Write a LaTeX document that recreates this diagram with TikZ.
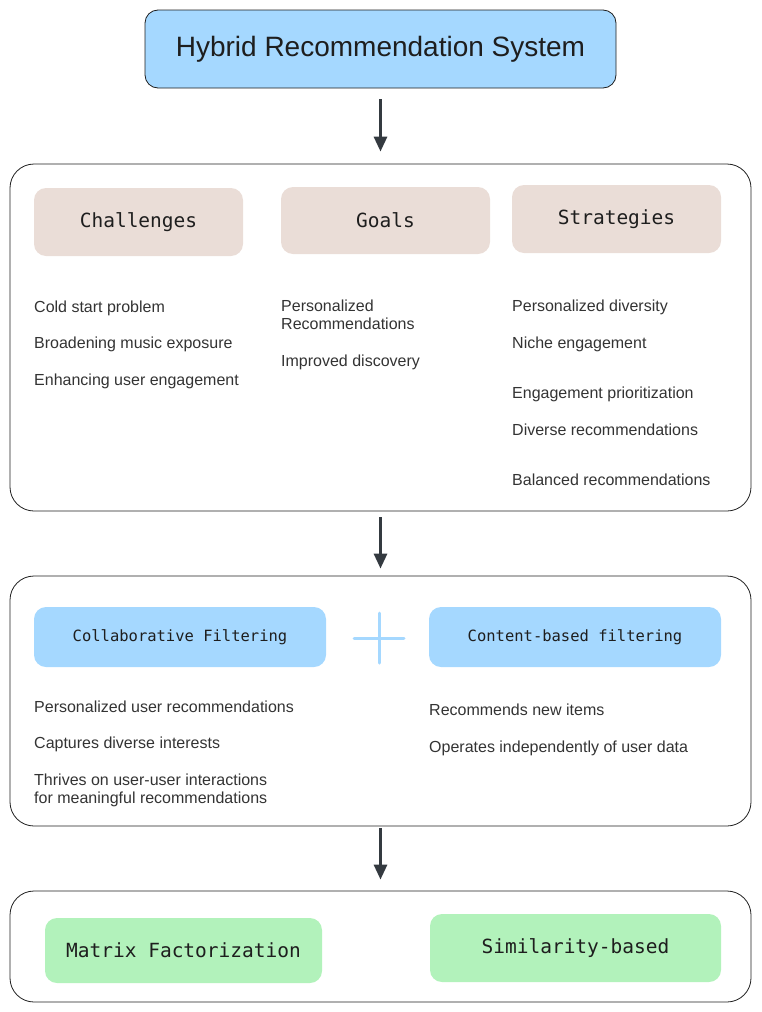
\documentclass[tikz,border=0pt]{standalone}
\usepackage{fontspec}
\setmainfont{Liberation Sans}
\newfontfamily\hdrfont{DejaVu Sans Mono}
\usetikzlibrary{arrows.meta}

\definecolor{skyblue}{HTML}{A5D8FF}
\definecolor{sand}{HTML}{EADDD7}
\definecolor{mint}{HTML}{B2F2BB}
\definecolor{ink}{HTML}{1E1E1E}
\definecolor{arrowgray}{HTML}{343A40}
\definecolor{itemgray}{HTML}{333333}

\tikzset{
  panel/.style={draw=ink, rounded corners=24pt, line width=0.8pt, minimum width=741pt},
  tag/.style={rounded corners=12pt, text=ink, font=\hdrfont\fontsize{19.5}{22}\selectfont},
  item/.style={anchor=base west, inner sep=0pt, text=itemgray, align=left,
               font=\fontsize{16}{18}\selectfont},
  flow/.style={-{Triangle[width=13pt,length=15pt]}, line width=3pt, draw=arrowgray}
}

\begin{document}
\begin{tikzpicture}[x=1pt,y=-1pt]
  \useasboundingbox (0,0) rectangle (761,1012);

  % top box
  \node[draw=ink, fill=skyblue, rounded corners=13pt, line width=0.8pt,
        minimum width=471pt, minimum height=78pt, text=ink,
        font=\fontsize{28}{32}\selectfont] (hybrid) at (380.5,49) {Hybrid Recommendation System};

  % first panel
  \node[panel, minimum height=347pt] (aims) at (380.5,337.5) {};
  \node[tag, fill=sand, minimum width=209pt, minimum height=68pt] (chal) at (138.5,222) {Challenges};
  \node[tag, fill=sand, minimum width=209pt, minimum height=67pt] (goal) at (385.5,220.5) {Goals};
  \node[tag, fill=sand, minimum width=209pt, minimum height=68pt] (strat) at (616.5,219) {Strategies};

  \node[item] (c1) at (34,312) {Cold start problem};
  \node[item] (c2) at (34,348) {Broadening music exposure};
  \node[item] (c3) at (34,385) {Enhancing user engagement};

  \node[item] (g1) at (281,329) {Personalized\\Recommendations};
  \node[item] (g2) at (281,366) {Improved discovery};

  \node[item] (s1) at (512,311) {Personalized diversity};
  \node[item] (s2) at (512,348) {Niche engagement};
  \node[item] (s3) at (512,398) {Engagement prioritization};
  \node[item] (s4) at (512,435) {Diverse recommendations};
  \node[item] (s5) at (512,485) {Balanced recommendations};

  % second panel
  \node[panel, minimum height=250pt] (methods) at (380.5,701) {};
  \node[tag, fill=skyblue, minimum width=292pt, minimum height=60pt,
        font=\hdrfont\fontsize{15.5}{18}\selectfont] (collab) at (180,637) {Collaborative Filtering};
  \node[tag, fill=skyblue, minimum width=292pt, minimum height=60pt,
        font=\hdrfont\fontsize{15.5}{18}\selectfont] (content) at (575,637) {Content-based filtering};
  % plus sign
  \draw[skyblue, line width=3pt, line cap=round] (354,638) -- (404,638) (379,613) -- (379,663);

  \node[item] (l1) at (34,712) {Personalized user recommendations};
  \node[item] (l2) at (34,748) {Captures diverse interests};
  \node[item] (l3) at (34,803) {Thrives on user-user interactions\\for meaningful recommendations};

  \node[item] (r1) at (429,715) {Recommends new items};
  \node[item] (r2) at (429,752) {Operates independently of user data};

  % third panel
  \node[panel, minimum height=111pt] (techs) at (380.5,946.5) {};
  \node[tag, fill=mint, minimum width=277pt, minimum height=65pt] (mf) at (183.5,950.5) {Matrix Factorization};
  \node[tag, fill=mint, minimum width=291pt, minimum height=68pt] (sim) at (575.5,948) {Similarity-based};

  % arrows
  \draw[flow, shorten <=11pt, shorten >=12pt] (hybrid.south) -- (aims.north);
  \draw[flow, shorten <=6pt, shorten >=7pt] (aims.south) -- (methods.north);
  \draw[flow, shorten <=2pt, shorten >=11pt] (methods.south) -- (techs.north);
\end{tikzpicture}
\end{document}
